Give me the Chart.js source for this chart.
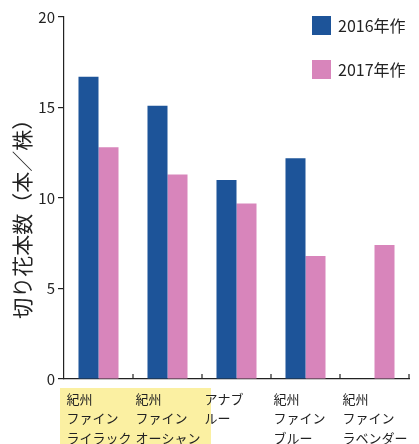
<!DOCTYPE html>
<html>
<head>
<meta charset="utf-8">
<script src="https://cdn.jsdelivr.net/npm/chart.js@4"></script>
<style>
  html, body { margin: 0; padding: 0; background: #fff; }
  #wrap { width: 419px; height: 444px; }
</style>
</head>
<body>
<div id="wrap"><canvas id="chart" width="419" height="444"></canvas></div>
<script>
// data
const categories = [
    ['紀州', 'ファイン', 'ライラック'],
    ['紀州', 'ファイン', 'オーシャン'],
    ['アナブ', 'ルー'],
    ['紀州', 'ファイン', 'ブルー'],
    ['紀州', 'ファイン', 'ラベンダー']
];
const series2016 = [16.7, 15.1, 11.0, 12.2, null];
const series2017 = [12.8, 11.3, 9.7, 6.8, 7.4];
const seriesLabels = ['2016年作', '2017年作'];
const yTicks = [0, 5, 10, 15, 20];

const BLUE = '#1d5499';
const PINK = '#d885bb';
const JP = '"Noto Sans CJK JP", "Noto Sans", sans-serif';

// yellow band behind the first two category labels
const highlight = {
    id: 'highlight',
    beforeDraw(chart) {
        const x = chart.scales.x;
        const step = x.getPixelForValue(1) - x.getPixelForValue(0);
        const left = x.getPixelForValue(0) - step / 2 - 4;
        const right = x.getPixelForValue(1) + step / 2 + 9;
        const ctx = chart.ctx;
        ctx.save();
        ctx.fillStyle = '#fbf0a2';
        ctx.fillRect(left, x.top + 9, right - left, 60);
        ctx.restore();
    }
};

// small upward ticks at the category borders, legend in the top right corner
const decorations = {
    id: 'decorations',
    afterDraw(chart) {
        const ctx = chart.ctx;
        const x = chart.scales.x;
        const step = x.getPixelForValue(1) - x.getPixelForValue(0);
        const base = chart.chartArea.bottom;
        ctx.save();
        ctx.strokeStyle = '#222';
        ctx.lineWidth = 1.2;
        for (let i = 1; i <= categories.length; i++) {
            const px = x.getPixelForValue(i - 1) + step / 2;
            ctx.beginPath();
            ctx.moveTo(px, base);
            ctx.lineTo(px, base - 5);
            ctx.stroke();
        }
        chart.data.datasets.forEach(function (ds, i) {
            const top = 16 + i * 44;
            ctx.fillStyle = ds.backgroundColor;
            ctx.fillRect(312, top, 19, 19);
            ctx.fillStyle = '#222';
            ctx.font = '16px ' + JP;
            ctx.textBaseline = 'middle';
            ctx.textAlign = 'left';
            ctx.fillText(ds.label, 338, top + 10);
        });
        ctx.restore();
    }
};

new Chart(document.getElementById('chart'), {
    type: 'bar',
    data: {
        labels: categories,
        datasets: [{
            label: seriesLabels[0],
            data: series2016,
            backgroundColor: BLUE
        }, {
            label: seriesLabels[1],
            data: series2017,
            backgroundColor: PINK
        }]
    },
    options: {
        responsive: false,
        animation: false,
        events: [],
        layout: { padding: { top: 17, right: 10, left: 0, bottom: 0 } },
        datasets: {
            bar: { categoryPercentage: 0.58, barPercentage: 1.0, grouped: true }
        },
        plugins: {
            legend: { display: false },
            tooltip: { enabled: false }
        },
        scales: {
            x: {
                grid: { display: false },
                border: { display: true, color: '#222', width: 1.2 },
                ticks: {
                    color: '#222',
                    font: { family: JP, size: 13, lineHeight: 1.5 },
                    align: 'start',
                    labelOffset: -32,
                    padding: 2,
                    maxRotation: 0,
                    autoSkip: false
                },
                afterFit(scale) {
                    scale.height = 65;
                    scale.paddingLeft = 0;
                    scale.paddingRight = 0;
                }
            },
            y: {
                min: 0,
                max: 20,
                afterBuildTicks(scale) {
                    scale.ticks = yTicks.map(function (v) { return { value: v }; });
                },
                grid: {
                    drawOnChartArea: false,
                    drawTicks: true,
                    tickLength: 6,
                    color: '#222',
                    lineWidth: 1.2
                },
                border: { display: true, color: '#222', width: 1.2 },
                ticks: {
                    color: '#222',
                    font: { family: JP, size: 15 },
                    padding: 3
                },
                title: {
                    display: true,
                    text: '切り花本数（本／株）　　',
                    color: '#222',
                    font: { family: JP, size: 21 },
                    padding: { top: 9, bottom: 0 }
                },
                afterFit(scale) { scale.width = 64; }
            }
        }
    },
    plugins: [highlight, decorations]
});
</script>
</body>
</html>
